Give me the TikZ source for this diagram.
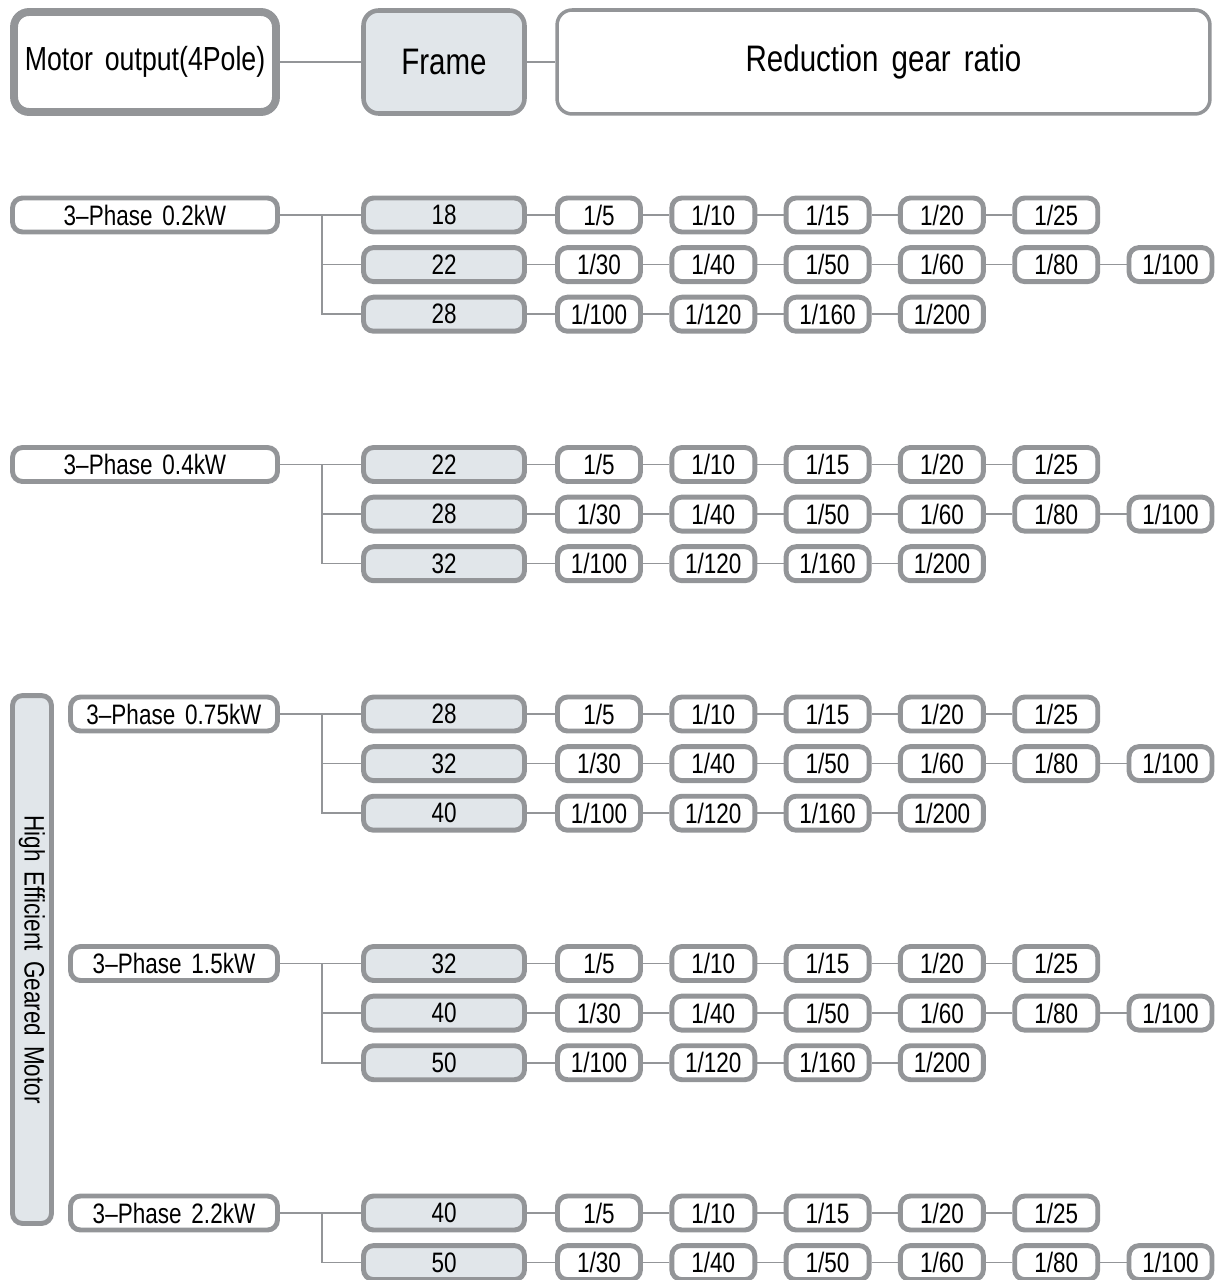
\documentclass[tikz,border=0pt]{standalone}
\usepackage{fontspec}
\setmainfont{Liberation Sans}[FakeStretch=0.8, WordSpace=1.6]
\usetikzlibrary{positioning}
\definecolor{boxgray}{HTML}{939598}
\definecolor{boxfill}{HTML}{E1E6EA}
\tikzset{
	cellbox/.style={draw=boxgray, line width=2.8pt, rounded corners=0.2cm, minimum height=0.68cm, inner sep=0pt, font=\fontsize{16}{16}\selectfont},
	ratiobox/.style={cellbox, fill=white, minimum width=1.66cm},
	framebox/.style={cellbox, fill=boxfill, minimum width=3.22cm},
	phasebox/.style={cellbox, fill=white},
	headbox/.style={draw=boxgray, rounded corners=0.3cm, minimum height=2cm, inner sep=0pt, font=\fontsize{21}{21}\selectfont},
	wire/.style={draw=boxgray, line width=0.9pt}
}
\def\ratioA{1/5,1/10,1/15,1/20,1/25}
\def\ratioB{1/30,1/40,1/50,1/60,1/80,1/100}
\def\ratioC{1/100,1/120,1/160,1/200}
\begin{document}
\begin{tikzpicture}[x=0.02cm, y=-0.02cm]
	\useasboundingbox (0,0) rectangle (1215,1280);
	% header
	\node[headbox, fill=white, line width=4.5pt, minimum width=5.24cm, font=\fontsize{19}{19}\selectfont] (hmotor) at (145,62) {Motor output(4Pole)};
	\node[headbox, fill=boxfill, line width=2.6pt, minimum width=3.22cm, minimum height=2.06cm] (hframe) at (444,62) {Frame};
	\node[headbox, fill=white, line width=2pt, minimum width=13.06cm, minimum height=2.08cm] (hratio) at (883.5,62) {Reduction gear ratio};
	\draw[wire] (hmotor) -- (hframe);
	\draw[wire] (hframe) -- (hratio);
	% side label
	\node[draw=boxgray, fill=boxfill, line width=2.8pt, rounded corners=0.2cm, minimum width=10.56cm, minimum height=0.78cm, inner sep=0pt, rotate=-90, font=\fontsize{16}{16}\selectfont] (side) at (32,959.5) {High Efficient Geared Motor};
	% groups
	\foreach \g/\px/\pw/\lab/\fr in {0/145/5.30/0.2kW/{18,22,28}, 1/145/5.30/0.4kW/{22,28,32}, 2/174/4.14/0.75kW/{28,32,40}, 3/174/4.14/1.5kW/{32,40,50}, 4/174/4.14/2.2kW/{40,50}}{
		\pgfmathsetmacro\gy{215+249.5*\g}
		\node[phasebox, minimum width=\pw cm] (p-\g) at (\px,\gy) {3--Phase \lab};
		\coordinate (j-\g) at (322,\gy);
		\draw[wire] (p-\g) -- (j-\g);
		\foreach \f [count=\r from 0] in \fr {
			\pgfmathsetmacro\ry{\gy+49.6*\r}
			\node[framebox] (f-\g-\r) at (444,\ry) {\f};
			\draw[wire] (j-\g) |- (f-\g-\r.west);
			\ifcase\r \let\rl\ratioA \or \let\rl\ratioB \or \let\rl\ratioC \fi
			\foreach \t [count=\i from 0, remember=\i as \j (initially -1)] in \rl {
				\node[ratiobox] (r-\g-\r-\i) at (599+114.3*\i,\ry) {\t};
				\ifnum\i=0
					\draw[wire] (f-\g-\r) -- (r-\g-\r-\i);
				\else
					\draw[wire] (r-\g-\r-\j) -- (r-\g-\r-\i);
				\fi
			}
		}
	}
\end{tikzpicture}
\end{document}
